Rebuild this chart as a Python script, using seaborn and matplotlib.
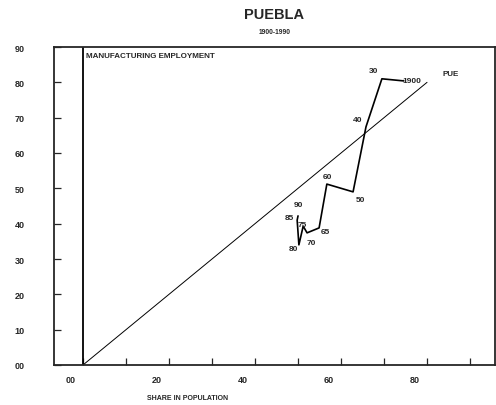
import matplotlib
matplotlib.use("Agg")
import matplotlib.pyplot as plt
import matplotlib.transforms as mtrans
import seaborn as sns
import pandas as pd

# Puebla: share in population (x) vs share in manufacturing employment (y)
year_labels = ["1900", "30", "40", "50", "60", "65", "70", "75", "80", "85", "90"]
pop_share = [74.6, 69.5, 65.8, 62.8, 56.7, 54.9, 52.1, 51.2, 50.2, 49.8, 50.0]
emp_share = [80.4, 81.0, 67.4, 49.0, 51.2, 38.8, 37.4, 39.3, 34.0, 41.0, 42.2]

diag_x = [0, 80]
diag_y = [0, 80]

y_ticks = [0, 10, 20, 30, 40, 50, 60, 70, 80, 90]
x_ticks = [0, 10, 20, 30, 40, 50, 60, 70, 80, 90]
x_tick_labels = ["00", "", "20", "", "40", "", "60", "", "80", ""]

df = pd.DataFrame({"pop": pop_share, "emp": emp_share, "year": year_labels})

sns.set_style("ticks")
plt.rcParams["font.family"] = ["Liberation Sans", "DejaVu Sans"]
plt.rcParams["font.weight"] = "bold"

fig = plt.figure(figsize=(4.96, 4.06), dpi=100)
ax = fig.add_axes([54 / 496, 40 / 406, 441 / 496, 318 / 406])

# 45 degree reference line and vertical zero line
ax.plot(diag_x, diag_y, color="black", linewidth=0.7)
ax.axvline(0, color="black", linewidth=1.3)

sns.lineplot(data=df, x="pop", y="emp", sort=False, estimator=None,
             color="black", linewidth=1.2, ax=ax)

# year labels next to each point (pixel offsets)
label_offsets = [(-1, 0), (-8, 8), (-8, 7), (7, -8), (1, 8), (6, -4),
                 (4, -10), (-1, 2), (-5, -4), (-8, 3), (0, 11)]
for i, (px, py, lbl) in enumerate(zip(pop_share, emp_share, year_labels)):
    dx, dy = label_offsets[i]
    ha = "left" if i == 0 else "center"
    ax.annotate(lbl, (px, py), xytext=(dx, dy), textcoords="offset pixels",
                ha=ha, va="center", fontsize=6, fontweight="bold")

ax.annotate("PUE", (diag_x[1], diag_y[1]), xytext=(15, 9),
            textcoords="offset pixels", ha="left", va="center",
            fontsize=5.8, fontweight="bold")

ax.text(0.7, 88.5, "MANUFACTURING EMPLOYMENT", ha="left", va="top",
        fontsize=5.8, fontweight="bold")

ax.set_xlim(-6.74, 95.8)
ax.set_ylim(0, 90)
ax.set_yticks(y_ticks)
ax.set_yticklabels([f"{v:02d}" for v in y_ticks])
ax.set_xticks(x_ticks)
ax.set_xticklabels(x_tick_labels)
ax.tick_params(axis="y", direction="in", length=5, width=0.9, pad=21,
               labelsize=6.5)
ax.tick_params(axis="x", direction="in", length=5, width=0.9, pad=7,
               labelsize=6.5)
ax.set_xlabel("")
ax.set_ylabel("")
for s in ax.spines.values():
    s.set_linewidth(1.3)

fig.text(274 / 496, 1 - 15 / 406, "PUEBLA", ha="center", va="center",
         fontsize=10.5, fontweight="bold")
fig.text(275 / 496, 1 - 32 / 406, "1900-1990", ha="center", va="center",
         fontsize=4.8, fontweight="bold")
fig.text(188 / 496, 1 - 399 / 406, "SHARE IN POPULATION", ha="center",
         va="center", fontsize=5, fontweight="bold")

# x tick labels in the original sit slightly left of their ticks
fig.canvas.draw()
shift = mtrans.ScaledTranslation(-12 / 100, 0, fig.dpi_scale_trans)
for lab in ax.get_xticklabels():
    lab.set_transform(lab.get_transform() + shift)

fig.savefig("out.png", dpi=100)
